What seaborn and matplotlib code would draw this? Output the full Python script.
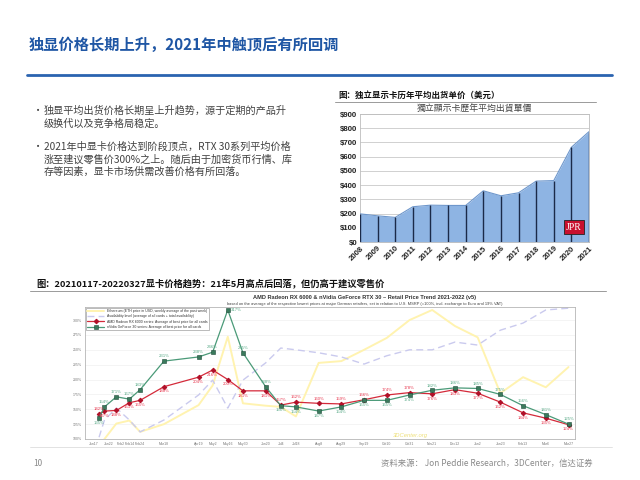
import matplotlib
matplotlib.use('Agg')
import matplotlib.pyplot as plt
from matplotlib.lines import Line2D
import seaborn as sns
import pandas as pd

sns.set_theme(style='white')
plt.rcParams['font.family'] = ['Noto Sans CJK SC', 'DejaVu Sans']

# ---------------- data ----------------
title = '独显价格长期上升，2021年中触顶后有所回调'
bullets = [
    ['独显平均出货价格长期呈上升趋势，源于定期的产品升', '级换代以及竞争格局稳定。'],
    ['2021年中显卡价格达到阶段顶点，RTX 30系列平均价格',
     '涨至建议零售价300%之上。随后由于加密货币行情、库',
     '存等因素，显卡市场供需改善价格有所回落。'],
]

years = [2008, 2009, 2010, 2011, 2012, 2013, 2014, 2015, 2016, 2017, 2018, 2019, 2020, 2021]
asp_usd = [198, 184, 173, 248, 259, 257, 257, 360, 325, 346, 428, 432, 666, 776]
usd_ticks = [0, 100, 200, 300, 400, 500, 600, 700, 800, 900]
usd_labels = ['$0', '$100', '$200', '$300', '$400', '$500', '$600', '$700', '$800', '$900']

dates = pd.to_datetime([
    '2021-01-17', '2021-01-22', '2021-02-02', '2021-02-14', '2021-02-24', '2021-03-18',
    '2021-04-19', '2021-05-02', '2021-05-16', '2021-05-30', '2021-06-20', '2021-07-04',
    '2021-07-18', '2021-08-08', '2021-08-29', '2021-09-19', '2021-10-10', '2021-10-31',
    '2021-11-21', '2021-12-12', '2022-01-02', '2022-01-23', '2022-02-13', '2022-03-06',
    '2022-03-27'])
date_labels = ['Jan17', 'Jan22', 'Feb2', 'Feb14', 'Feb24', 'Mar18', 'Apr19', 'May2', 'May16',
               'May30', 'Jun20', 'Jul4', 'Jul18', 'Aug8', 'Aug29', 'Sep19', 'Oct10', 'Oct31',
               'Nov21', 'Dec12', 'Jan2', 'Jan23', 'Feb13', 'Mar6', 'Mar27']
amd = [142, 147, 148, 161, 165, 188, 204, 216, 200, 181, 181, 157, 162, 160, 159, 166,
       174, 178, 176, 183, 177, 162, 144, 135, 124]
nvidia = [135, 154, 171, 167, 183, 231, 238, 246, 317, 245, 188, 156, 154, 147, 154, 165,
          165, 174, 182, 186, 185, 175, 156, 141, 125]
eth = [88, 100, 126, 131, 112, 125, 157, 190, 272, 160, 156, 154, 138, 228, 231, 250,
       270, 300, 317, 290, 271, 177, 204, 187, 221]
avail = [103, 132, 152, 132, 112, 132, 174, 199, 152, 199, 228, 253, 250, 245, 238, 226,
         240, 250, 250, 263, 258, 283, 295, 317, 320]
pct_ticks = [100, 125, 150, 175, 200, 225, 250, 275, 300]
pct_labels = ['100%', '125%', '150%', '175%', '200%', '225%', '250%', '275%', '300%']

legend_labels = ['Ethereum (ETH price in USD, weekly average of the past week)',
                 'Availability level (average of all cards + total availability)',
                 'AMD Radeon RX 6000 series: Average of best price for all cards',
                 'nVidia GeForce 30 series: Average of best price for all cards']

# ---------------- figure ----------------
W, H = 640, 480
fig = plt.figure(figsize=(6.4, 4.8), dpi=100)
fig.patch.set_facecolor('white')

def fx(x):
    return x / W

def fy(y):
    return 1 - y / H

def hline(x0, x1, y, color, lw):
    fig.add_artist(Line2D([fx(x0), fx(x1)], [fy(y), fy(y)], color=color, lw=lw,
                          transform=fig.transFigure))

# slide title
fig.text(fx(29), fy(45), title, fontsize=11, fontweight='bold', color='#1f56a4',
         ha='left', va='center')
hline(27, 612, 75, '#2a63b0', 2.0)

# bullets
yy = [[110.7, 123.3], [146.7, 159.3, 171.9]]
for lines, ys in zip(bullets, yy):
    fig.text(fx(33), fy(ys[0]), '•', fontsize=7.3, color='#404040', ha='left', va='center')
    for t, y in zip(lines, ys):
        fig.text(fx(44), fy(y), t, fontsize=7.3, color='#404040', ha='left', va='center')

# ---------------- top-right area chart ----------------
fig.text(fx(338), fy(95.5), '图：独立显示卡历年平均出货单价（美元）', fontsize=6.1,
         fontweight='bold', color='#111111', ha='left', va='center')
hline(335, 596, 101.5, '#9a9a9a', 0.7)
fig.text(fx(474), fy(109), '獨立顯示卡歷年平均出貨單價', fontsize=6.4, color='#444444',
         ha='center', va='center', family=['Noto Sans CJK TC', 'DejaVu Sans'])

ax1 = fig.add_axes([fx(360), fy(242), (589 - 360) / W, (242 - 114) / H])
ax1.set_facecolor('white')
ax1.fill_between(years, 0, asp_usd, color='#8eb4e3', zorder=2, lw=0)
sns.lineplot(x=years, y=asp_usd, ax=ax1, color='#6e97cc', lw=0.8, zorder=3)
ax1.vlines(years, 0, asp_usd, color='#1b2a48', lw=1.0, zorder=4)
ax1.set_xlim(2008, 2021)
ax1.set_ylim(0, 900)
ax1.set_yticks(usd_ticks)
ax1.set_yticklabels(usd_labels)
ax1.set_xticks(years)
ax1.set_xticklabels([str(y) for y in years], rotation=45, ha='right', rotation_mode='anchor')
for lab in ax1.get_yticklabels() + ax1.get_xticklabels():
    lab.set_fontsize(5.6)
    lab.set_fontweight('bold')
    lab.set_family(['Liberation Sans', 'DejaVu Sans'])
    lab.set_color('#222222')
ax1.tick_params(axis='both', length=0, pad=2)
ax1.grid(axis='y', color='#bdbdbd', lw=0.5, zorder=1)
ax1.set_axisbelow(True)
for s in ax1.spines.values():
    s.set_color('#bdbdbd')
    s.set_linewidth(0.6)
ax1.set_xlabel('')
ax1.set_ylabel('')
ax1.text(0.935, 0.115, 'JPR', transform=ax1.transAxes, fontsize=7, color='white',
         family=['Liberation Serif', 'DejaVu Serif'], ha='center', va='center', zorder=6,
         bbox=dict(boxstyle='square,pad=0.25', fc='#c8102e', ec='#222222', lw=0.6))

# ---------------- bottom line chart ----------------
fig.text(fx(36), fy(283), '图：20210117-20220327显卡价格趋势：21年5月高点后回落，但仍高于建议零售价',
         fontsize=6.7, fontweight='bold', color='#111111', ha='left', va='center')
hline(30, 606, 291, '#9a9a9a', 0.7)
fig.text(fx(365), fy(297.5),
         'AMD Radeon RX 6000 & nVidia GeForce RTX 30 – Retail Price Trend 2021-2022 (v5)',
         fontsize=4.1, fontweight='bold', color='#333333', ha='center', va='center',
         family=['Liberation Sans', 'DejaVu Sans'])
fig.text(fx(365), fy(303.5),
         'based on the average of the respective lowest prices at major German retailers, '
         'set in relation to U.S. MSRP (=100%, incl. exchange to Euro and 19% VAT)',
         fontsize=2.85, color='#444444', ha='center', va='center',
         family=['Liberation Sans', 'DejaVu Sans'])

ax2 = fig.add_axes([fx(85), fy(439), (575 - 85) / W, (439 - 307) / H])
ax2.set_facecolor('white')
sns.lineplot(x=dates, y=eth, ax=ax2, color='#fff3b0', lw=1.4, label=legend_labels[0], zorder=2)
sns.lineplot(x=dates, y=avail, ax=ax2, color='#cacaee', lw=1.0, dashes=False,
             label=legend_labels[1], zorder=2)
ax2.lines[-1].set_dashes([5, 3])
sns.lineplot(x=dates, y=amd, ax=ax2, color='#d42a3a', lw=0.9, marker='D', markersize=2.3,
             markerfacecolor='#b01028', markeredgecolor='#b01028', label=legend_labels[2], zorder=4)
sns.lineplot(x=dates, y=nvidia, ax=ax2, color='#4a9a78', lw=0.9, marker='s', markersize=2.8,
             markerfacecolor='#3a7a5c', markeredgecolor='#1e4a38', markeredgewidth=0.4,
             label=legend_labels[3], zorder=5)

lab_font = ['Liberation Sans', 'DejaVu Sans']
for d, a, n in zip(dates, amd, nvidia):
    a_up = a > n
    ax2.annotate(f'{a}%', (d, a), xytext=(0, 3.4 if a_up else -3.4), textcoords='offset points',
                 fontsize=3.1, color='#e8384f', ha='center', va='center',
                 family=lab_font, zorder=6)
    if n > 300:
        off, ha = (2.5, 0), 'left'
    else:
        off, ha = (0, -3.4 if a_up else 3.4), 'center'
    ax2.annotate(f'{n}%', (d, n), xytext=off, textcoords='offset points',
                 fontsize=3.1, color='#5aaa88', ha=ha, va='center',
                 family=lab_font, zorder=6)

ax2.set_xlim(pd.Timestamp('2021-01-04'), pd.Timestamp('2022-04-02'))
ax2.set_ylim(100, 322)
ax2.set_xticks(dates)
ax2.set_xticklabels(date_labels)
ax2.set_yticks(pct_ticks)
ax2.set_yticklabels(pct_labels)
for lab in ax2.get_xticklabels() + ax2.get_yticklabels():
    lab.set_fontsize(2.5)
    lab.set_color('#777777')
    lab.set_family(lab_font)
# spread the first crowded date labels apart
xlabs = ax2.get_xticklabels()
xlabs[0].set_horizontalalignment('right')
xlabs[1].set_horizontalalignment('left')
xlabs[2].set_horizontalalignment('left')
ax2.tick_params(axis='both', length=0, pad=2.5)
ax2.grid(axis='y', color='#f0f0f0', lw=0.5)
ax2.set_axisbelow(True)
for s in ax2.spines.values():
    s.set_color('#b5b5b5')
    s.set_linewidth(0.6)
ax2.set_xlabel('')
ax2.set_ylabel('')
leg = ax2.legend(loc='upper left', fontsize=2.5, frameon=True, fancybox=False,
                 edgecolor='#888888', borderpad=0.35, handlelength=5, labelspacing=0.35,
                 borderaxespad=0.25, handletextpad=0.8)
leg.get_frame().set_linewidth(0.5)
for t in leg.get_texts():
    t.set_family(lab_font)
    t.set_color('#333333')
ax2.text(0.665, 0.03, '3DCenter.org', transform=ax2.transAxes, fontsize=4.2, color='#eee07a',
         style='italic', ha='center', va='center', family=lab_font)

# ---------------- footer ----------------
hline(30, 612, 447, '#dddddd', 0.6)
fig.text(fx(33), fy(463), '10', fontsize=6, color='#8a8a8a', ha='left', va='center')
fig.text(fx(381), fy(463), '资料来源： Jon Peddie Research，3DCenter，信达证券', fontsize=6,
         color='#8a8a8a', ha='left', va='center')

fig.savefig('out.png', dpi=100)
